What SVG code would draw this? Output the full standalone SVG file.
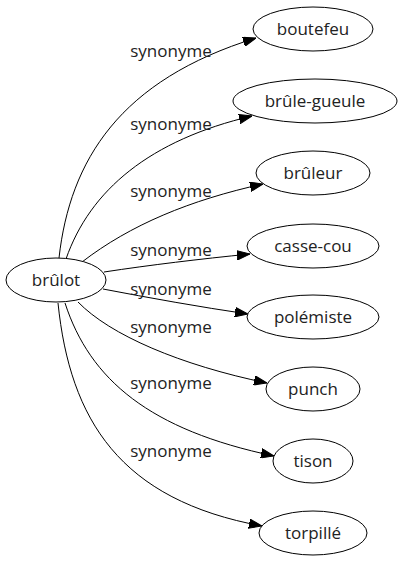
<svg xmlns="http://www.w3.org/2000/svg" width="403" height="563" viewBox="0 0 403 563">
<defs>
<marker id="arr" markerUnits="userSpaceOnUse" markerWidth="13" markerHeight="10" viewBox="0 0 13 10" refX="13" refY="5" orient="auto">
<path d="M0,0.3 L13,5 L0,9.7 z" fill="#000" stroke="#000" stroke-width="1"/>
</marker>
</defs>
<style>
.n ellipse{fill:#fff;stroke:#000;stroke-width:1}
text{font-family:"Open Sans","DejaVu Sans",sans-serif;font-size:17px;fill:#222;text-anchor:middle}
.e path{fill:none;stroke:#000;stroke-width:1;marker-end:url(#arr)}
</style>
<rect width="403" height="563" fill="#fff"/>
<g id="edges" class="e">
<path d="M59,258 C70,160 120,80 256,38"/>
<path d="M66,259 C90,190 150,140 252,116"/>
<path d="M82,262 C130,225 190,200 263,184"/>
<path d="M104,272 C150,265 200,259 250,254"/>
<path d="M103,289 C150,298 200,307 248,314"/>
<path d="M78,302 C110,335 180,365 267,383"/>
<path d="M65,303 C90,380 150,430 274,456"/>
<path d="M58,303 C70,420 120,500 262,526"/>
</g>
<g id="labels">
<text x="171" y="57">synonyme</text>
<text x="171" y="130">synonyme</text>
<text x="171" y="197">synonyme</text>
<text x="171" y="256">synonyme</text>
<text x="171" y="295">synonyme</text>
<text x="171" y="333">synonyme</text>
<text x="171" y="389">synonyme</text>
<text x="171" y="457">synonyme</text>
</g>
<g id="n-brulot" class="n"><ellipse cx="56" cy="280" rx="50" ry="22"/><text x="56" y="286">brûlot</text></g>
<g id="n-boutefeu" class="n"><ellipse cx="313" cy="29" rx="60" ry="22"/><text x="313" y="35">boutefeu</text></g>
<g id="n-brule-gueule" class="n"><ellipse cx="315" cy="101" rx="82" ry="22"/><text x="315" y="107">brûle-gueule</text></g>
<g id="n-bruleur" class="n"><ellipse cx="313" cy="173" rx="57" ry="22"/><text x="313" y="179">brûleur</text></g>
<g id="n-casse-cou" class="n"><ellipse cx="313" cy="246" rx="66" ry="22"/><text x="313" y="252">casse-cou</text></g>
<g id="n-polemiste" class="n"><ellipse cx="313" cy="317" rx="66" ry="22"/><text x="313" y="323">polémiste</text></g>
<g id="n-punch" class="n"><ellipse cx="313" cy="389" rx="47" ry="22"/><text x="313" y="395">punch</text></g>
<g id="n-tison" class="n"><ellipse cx="313" cy="461" rx="40" ry="22"/><text x="313" y="467">tison</text></g>
<g id="n-torpille" class="n"><ellipse cx="313" cy="533" rx="54" ry="22"/><text x="313" y="539">torpillé</text></g>
</svg>
